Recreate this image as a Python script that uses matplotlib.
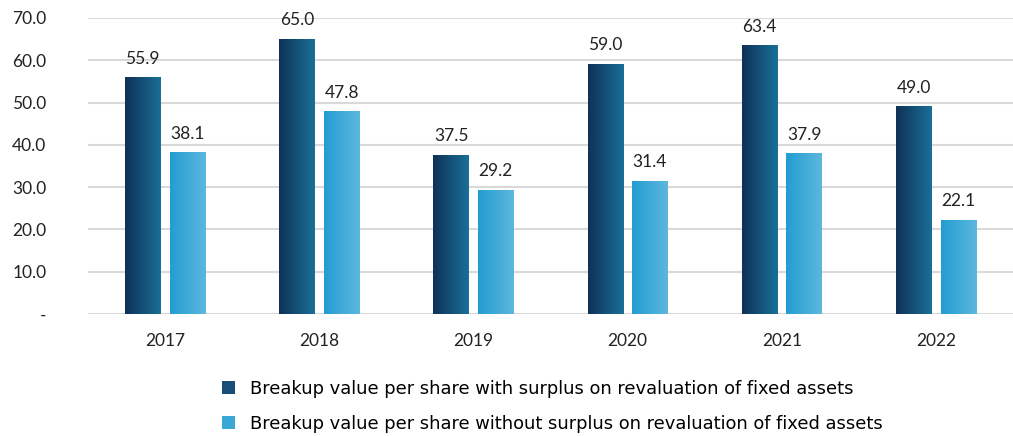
import matplotlib
matplotlib.use("Agg")
import matplotlib.pyplot as plt
import numpy as np
from matplotlib.colors import LinearSegmentedColormap
from matplotlib.patches import Patch

plt.rcParams['font.family'] = ['Lato', 'DejaVu Sans']

# ===== Date =====
years = ["2017", "2018", "2019", "2020", "2021", "2022"]
with_surplus = [55.9, 65.0, 37.5, 59.0, 63.4, 49.0]
without_surplus = [38.1, 47.8, 29.2, 31.4, 37.9, 22.1]
series_names = [
    "Breakup value per share with surplus on revaluation of fixed assets",
    "Breakup value per share without surplus on revaluation of fixed assets",
]
yticks = [0, 10, 20, 30, 40, 50, 60, 70]
ytick_labels = ["-", "10.0", "20.0", "30.0", "40.0", "50.0", "60.0", "70.0"]

dark_cmap = LinearSegmentedColormap.from_list("dark", ["#0f3157", "#1a7098"])
light_cmap = LinearSegmentedColormap.from_list("light", ["#229dd2", "#5db7de"])

fig = plt.figure(figsize=(10.13, 4.36), dpi=100)
ax = fig.add_axes([88 / 1013, 122 / 436, 1 - 88 / 1013, (314 - 18) / 436])

x = np.arange(len(years))
width = 0.23
offset = 0.145
gradient = np.linspace(0, 1, 256).reshape(1, -1)


# bare cu gradient orizontal
def grad_bars(xpos, vals, cmap):
    bars = ax.bar(xpos, vals, width, color="none", zorder=3)
    for b in bars:
        x0, y0 = b.get_x(), b.get_y()
        w, h = b.get_width(), b.get_height()
        ax.imshow(gradient, cmap=cmap, aspect="auto", extent=(x0, x0 + w, y0, y0 + h),
                  zorder=3, interpolation="bilinear")
        ax.annotate(f"{h:.1f}", (x0 + w / 2, y0 + h), xytext=(0, 8), textcoords="offset points",
                    ha="center", va="bottom", fontsize=12.5, color="#222222")
    return bars


grad_bars(x - offset, with_surplus, dark_cmap)
grad_bars(x + offset, without_surplus, light_cmap)

ax.set_xlim(-0.5, len(years) - 0.5)
ax.set_ylim(0, 70)
ax.set_yticks(yticks)
ax.set_yticklabels(ytick_labels)
ax.set_xticks(x)
ax.set_xticklabels(years)
ax.tick_params(axis="y", length=0, pad=30, labelsize=12.5, labelcolor="#222222")
ax.tick_params(axis="x", length=0, pad=14, labelsize=12.5, labelcolor="#222222")
ax.grid(axis="y", color="#d9d9d9", linewidth=1.5, zorder=0)
for s in ax.spines.values():
    s.set_visible(False)

handles = [Patch(facecolor="#174e78"), Patch(facecolor="#3aa8d6")]
fig.legend(handles, series_names, loc="lower center", bbox_to_anchor=(0.545, -0.03), ncol=1,
           frameon=False, prop={"family": "DejaVu Sans", "size": 12.9}, handlelength=0.75,
           handleheight=0.75, handletextpad=0.8, labelspacing=0.95)

fig.savefig("out.png", dpi=100)
